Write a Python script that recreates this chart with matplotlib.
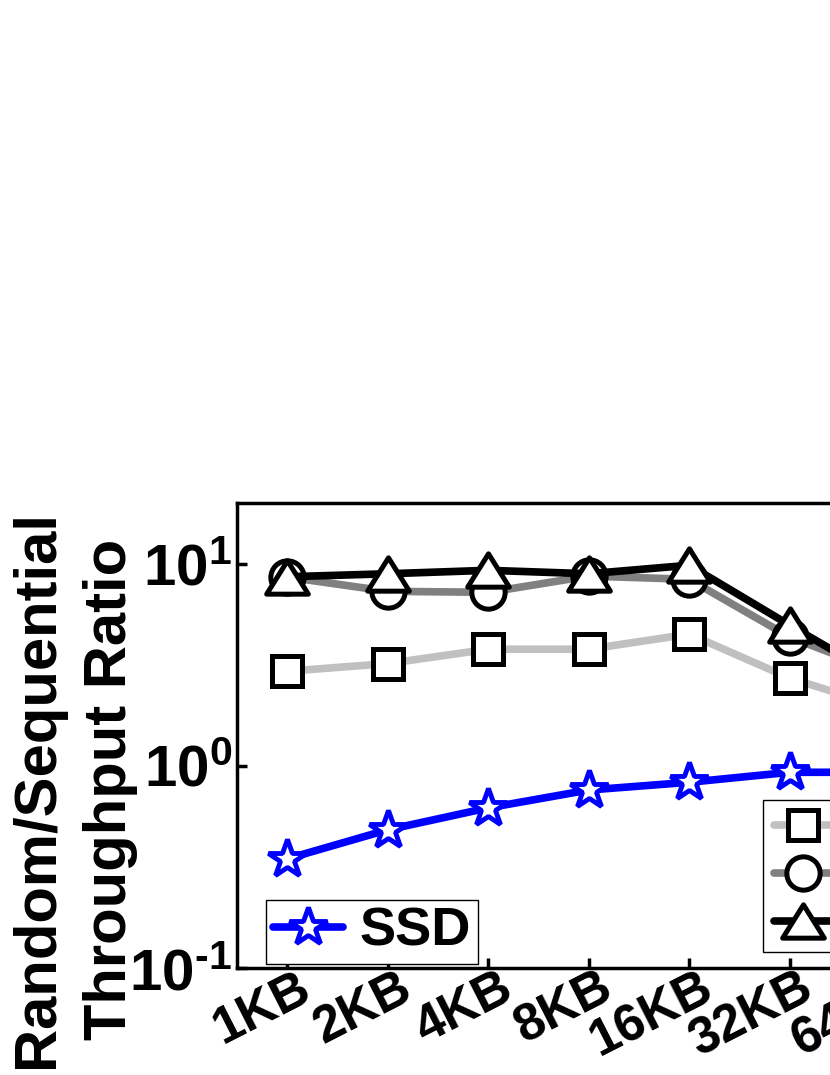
import matplotlib
matplotlib.use('Agg')
import matplotlib.pyplot as plt
import matplotlib.transforms as mtransforms
from matplotlib.path import Path
from matplotlib import font_manager

# ---- data ----
categories = ['1KB', '2KB', '4KB', '8KB', '16KB', '32KB', '64KB']
ssd = [0.347, 0.483, 0.62, 0.76, 0.83, 0.93, 0.93]
hdd1 = [2.94, 3.21, 3.78, 3.78, 4.49, 2.72, 1.9]
hdd2 = [8.6, 7.31, 7.23, 8.7, 8.38, 4.34, 2.8]
hdd3 = [8.63, 8.93, 9.29, 8.93, 9.84, 4.97, 2.55]
series_labels = ['SSD', 'HDD1', 'HDD2', 'HDD3']
ytick_vals = [0.1, 1, 10]
ytick_labels = [r'$10^{\text{-}1}$', r'$10^{0}$', r'$10^{1}$']
ylabel_text = 'Random/Sequential\nThroughput Ratio'

# ---- style ----
plt.rcParams['font.family'] = ['Liberation Sans', 'DejaVu Sans']
plt.rcParams['font.weight'] = 'bold'
plt.rcParams['mathtext.fontset'] = 'custom'
plt.rcParams['mathtext.rm'] = 'Liberation Sans:bold'
plt.rcParams['mathtext.it'] = 'Liberation Sans:bold'
plt.rcParams['mathtext.bf'] = 'Liberation Sans:bold'
plt.rcParams['mathtext.sf'] = 'Liberation Sans:bold'
plt.rcParams['mathtext.default'] = 'rm'

names = {f.name for f in font_manager.fontManager.ttflist}
has_narrow = 'Liberation Sans Narrow' in names
xt_family = ['Liberation Sans Narrow', 'Liberation Sans'] if has_narrow else ['Liberation Sans']
xt_size = 41 if has_narrow else 37

W, H = 830, 1075
fig = plt.figure(figsize=(W / 100, H / 100), dpi=100)
ax = fig.add_axes([237 / W, 107 / H, 703.5 / W, 465 / H])

xs = list(range(len(categories)))
tri = Path([(-1, -0.8), (1, -0.8), (0, 0.8), (-1, -0.8)], closed=True)

common = dict(lw=5.5, mfc='white', mec='black', mew=3.6, solid_capstyle='round')
l1, = ax.plot(xs, hdd1, color='#c0c0c0', marker='s', ms=21, **common)
l2, = ax.plot(xs, hdd2, color='#808080', marker='o', ms=24, **common)
l3, = ax.plot(xs, hdd3, color='black', marker=tri, ms=30, **common)
l0, = ax.plot(xs, ssd, color='#0000ff', marker='*', ms=29, mfc='white',
              mec='#0000ff', mew=3.5, lw=5.5, solid_capstyle='round')

ax.set_yscale('log')
ax.set_ylim(0.1, 20)
ax.set_xlim(-0.5, len(categories) - 0.5)
ax.set_yticks(ytick_vals, ytick_labels)
ax.yaxis.set_minor_locator(matplotlib.ticker.NullLocator())
ax.set_xticks(xs, categories)

for sp in ax.spines.values():
    sp.set_linewidth(2.5)

ax.tick_params(axis='both', direction='in', length=7, width=2.5)
ax.tick_params(axis='y', labelsize=42, pad=3.5)
ax.tick_params(axis='x', labelsize=xt_size, pad=3)

offset = mtransforms.ScaledTranslation(32 / 100, 9 / 100, fig.dpi_scale_trans)
for lab in ax.get_xticklabels():
    lab.set_family(xt_family)
    lab.set_rotation(27)
    lab.set_ha('right')
    lab.set_va('top')
    lab.set_fontweight('bold')
    lab.set_transform(lab.get_transform() + offset)

fig.text(74 / W, 1 - 789 / H, ylabel_text, rotation=90, ha='center', va='center',
         fontsize=43, fontweight='bold', linespacing=1.4, multialignment='center')

leg1 = ax.legend([l0], [series_labels[0]], loc='lower left',
                 bbox_to_anchor=(266 / W, 1 - 964 / H), bbox_transform=fig.transFigure,
                 borderaxespad=0, fontsize=39, handlelength=1.3, handletextpad=0.3,
                 borderpad=0.13, fancybox=False, edgecolor='black', framealpha=1)
leg1.get_frame().set_linewidth(1.0)
ax.add_artist(leg1)

leg2 = ax.legend([l1, l2, l3], series_labels[1:], loc='lower left',
                 bbox_to_anchor=(763 / W, 1 - 952 / H), bbox_transform=fig.transFigure,
                 borderaxespad=0, fontsize=26, handlelength=1.6, handletextpad=0.4,
                 labelspacing=0.35, borderpad=0.3, fancybox=False, edgecolor='black',
                 framealpha=1)
leg2.get_frame().set_linewidth(1.0)

fig.savefig('out.png', dpi=100)
